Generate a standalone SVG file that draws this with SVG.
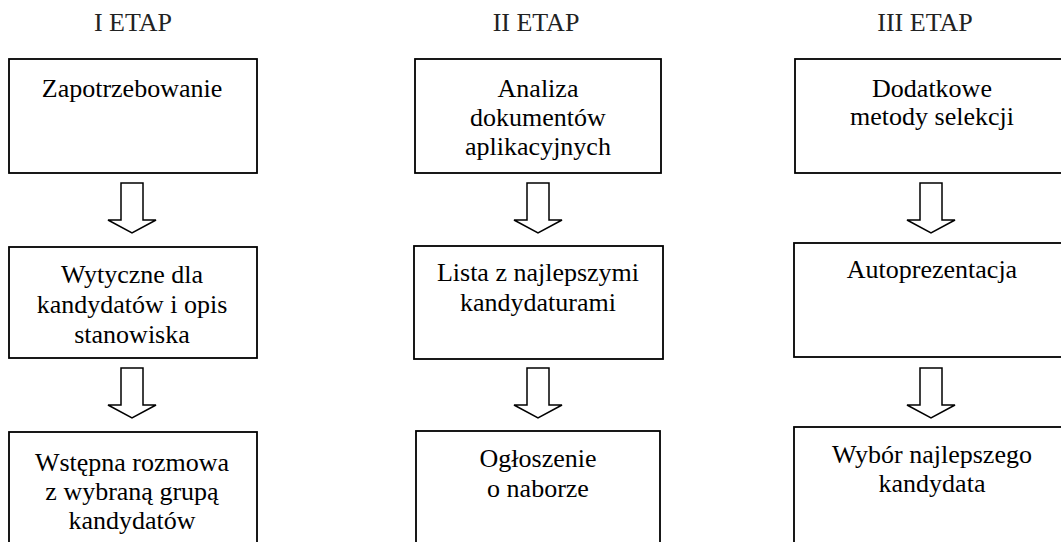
<svg xmlns="http://www.w3.org/2000/svg" width="1061" height="542" viewBox="0 0 1061 542">
<style>
.box{fill:#fff;stroke:#000;stroke-width:1.8}
.arr{fill:#fff;stroke:#000;stroke-width:1.5;stroke-linejoin:miter}
text{font-family:"Liberation Serif","Times New Roman",serif;font-size:26px;fill:#000;text-anchor:middle}
.title{fill:#222}
</style>
<defs>
<path id="arrow" class="arr" d="M-11,0 H11 V37 H24 L0,50 L-24,37 H-11 Z"/>
</defs>
<rect width="1061" height="542" fill="#fff"/>
<g id="titles">
<text class="title" x="133" y="31">I ETAP</text>
<text class="title" x="536" y="31">II ETAP</text>
<text class="title" x="925" y="31">III ETAP</text>
</g>
<g id="connectors">
<use href="#arrow" x="132" y="183"/>
<use href="#arrow" x="132" y="368"/>
<use href="#arrow" x="538" y="183"/>
<use href="#arrow" x="538" y="368"/>
<use href="#arrow" x="931" y="183"/>
<use href="#arrow" x="931" y="368"/>
</g>
<g id="n1a"><rect class="box" x="9" y="59" width="248" height="114"/><text x="132" y="97">Zapotrzebowanie</text></g>
<g id="n1b"><rect class="box" x="9" y="247" width="248" height="111"/><text x="132" y="283">Wytyczne dla</text><text x="132" y="313">kandydatów i opis</text><text x="132" y="343">stanowiska</text></g>
<g id="n1c"><rect class="box" x="9" y="432" width="248" height="130"/><text x="132" y="471">Wstępna rozmowa</text><text x="132" y="500">z wybraną grupą</text><text x="132" y="529">kandydatów</text></g>
<g id="n2a"><rect class="box" x="415" y="59" width="246" height="114"/><text x="538" y="97">Analiza</text><text x="538" y="126">dokumentów</text><text x="538" y="155">aplikacyjnych</text></g>
<g id="n2b"><rect class="box" x="414" y="246" width="249" height="113"/><text x="538" y="281">Lista z najlepszymi</text><text x="538" y="311">kandydaturami</text></g>
<g id="n2c"><rect class="box" x="416" y="431" width="244" height="130"/><text x="538" y="467">Ogłoszenie</text><text x="538" y="497">o naborze</text></g>
<g id="n3a"><rect class="box" x="795" y="59" width="280" height="114"/><text x="932" y="97">Dodatkowe</text><text x="932" y="125">metody selekcji</text></g>
<g id="n3b"><rect class="box" x="794" y="243" width="280" height="114"/><text x="932" y="278">Autoprezentacja</text></g>
<g id="n3c"><rect class="box" x="794" y="427" width="280" height="135"/><text x="932" y="463">Wybór najlepszego</text><text x="932" y="492">kandydata</text></g>
</svg>
